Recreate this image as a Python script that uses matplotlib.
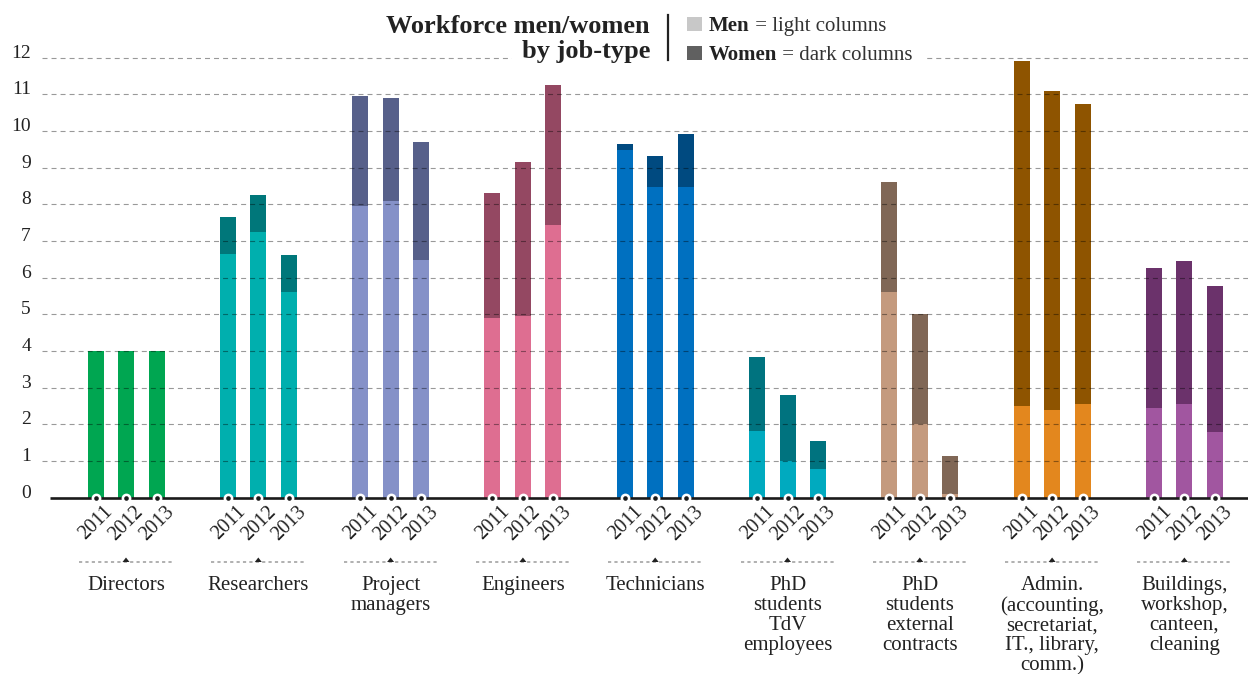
import matplotlib
matplotlib.use("Agg")
import matplotlib.pyplot as plt
from matplotlib.patches import Rectangle, Polygon
from matplotlib.transforms import ScaledTranslation, blended_transform_factory
import numpy as np

plt.rcParams['font.family'] = ['Liberation Serif', 'DejaVu Serif']
plt.rcParams['lines.scale_dashes'] = False

categories = ["Directors", "Researchers", "Project\nmanagers", "Engineers",
              "Technicians", "PhD\nstudents\nTdV\nemployees",
              "PhD\nstudents\nexternal\ncontracts",
              "Admin.\n(accounting,\nsecretariat,\nIT., library,\ncomm.)",
              "Buildings,\nworkshop,\ncanteen,\ncleaning"]
years = ["2011", "2012", "2013"]

men = [
    [4.00, 4.00, 4.00],
    [6.64, 7.24, 5.61],
    [7.95, 8.09, 6.48],
    [4.90, 4.95, 7.43],
    [9.48, 8.48, 8.48],
    [1.81, 1.00, 0.78],
    [5.61, 2.00, 0.10],
    [2.50, 2.39, 2.55],
    [2.44, 2.55, 1.79],
]
women = [
    [0.00, 0.00, 0.00],
    [1.01, 1.01, 1.00],
    [3.00, 2.81, 3.22],
    [3.41, 4.20, 3.82],
    [0.16, 0.84, 1.43],
    [2.02, 1.80, 0.77],
    [2.99, 3.00, 1.03],
    [9.40, 8.70, 8.18],
    [3.82, 3.90, 3.98],
]
light_colors = ["#00A651", "#00AFAE", "#8591C8", "#DE6E91", "#0070C0",
                "#00AABF", "#C49A7E", "#E3871E", "#A156A0"]
dark_colors = ["#00A651", "#00777A", "#57608A", "#944862", "#004A80",
               "#00737F", "#806756", "#8E5400", "#6B326B"]
y_ticks = list(range(0, 13))

W, H = 1248, 674
fig = plt.figure(figsize=(W / 100, H / 100), dpi=100)

def fx(px):
    return px / W

def fy(py):
    return 1 - py / H

# axes placement
y0_px = 497.6
unit_px = 36.67
ytop = 12.3
ax_bottom = fy(y0_px)
ax_top = fy(y0_px - ytop * unit_px)
ax = fig.add_axes([fx(42), ax_bottom, 1 - fx(42), ax_top - ax_bottom])

g0_px, gstep = 126, 132.3
ax.set_xlim((42 - g0_px) / gstep, (W - g0_px) / gstep)
ax.set_ylim(0, ytop)
for s in ax.spines.values():
    s.set_visible(False)
ax.set_xticks([])

offset = 30.5 / gstep
bw = 16 / gstep

text_color = "#222222"
xs_all = []
for gi, cat in enumerate(categories):
    xs = gi + offset * np.array([-1, 0, 1])
    xs_all.extend(xs)
    ax.bar(xs, men[gi], width=bw, color=light_colors[gi], zorder=2, linewidth=0)
    ax.bar(xs, women[gi], width=bw, bottom=men[gi], color=dark_colors[gi],
           zorder=2, linewidth=0)
    for xi, yr in zip(xs, years):
        tr = ax.transData + ScaledTranslation(5.8 / 72, -3.4 / 72, fig.dpi_scale_trans)
        ax.text(xi, 0, yr, rotation=45, rotation_mode='anchor', ha='right',
                va='top', fontsize=14.5, color=text_color, transform=tr)
    # bracket
    ax.plot([gi - 47 / gstep, gi + 47 / gstep], [0, 0], color="#aaaaaa",
            lw=1.3, dashes=(2.3, 2.3), clip_on=False,
            transform=ax.transData + ScaledTranslation(0, -(562 - y0_px) / 100, fig.dpi_scale_trans))
    ax.text(gi, 0, cat, ha='center', va='top', fontsize=15, color=text_color,
            linespacing=1.06, multialignment='center',
            transform=ax.transData + ScaledTranslation(0, -(576 - y0_px) / 100, fig.dpi_scale_trans))

# small triangles at bracket centers
for gi in range(len(categories)):
    cx = ax.transData.transform((gi, 0))[0] / W
    tri = Polygon([[cx - 3.5 / W, fy(562)], [cx + 3.5 / W, fy(562)], [cx, fy(557.5)]],
                  closed=True, transform=fig.transFigure, facecolor="#222222",
                  edgecolor='none', zorder=5)
    fig.patches.append(tri)

# gridlines on top of bars
for yv in y_ticks[1:]:
    ax.axhline(yv, color="black", alpha=0.4, lw=0.8, dashes=(3.6, 2.9), zorder=3)

# baseline
ax.plot([(50 - 42) / (W - 42), 1], [0, 0], color="#1a1a1a", lw=1.9,
        transform=blended_transform_factory(ax.transAxes, ax.transData),
        zorder=4, clip_on=False, solid_capstyle='butt')

# markers at baseline
ax.scatter(xs_all, np.zeros(len(xs_all)), s=50, c='white', zorder=6,
           clip_on=False, linewidths=0)
ax.scatter(xs_all, np.zeros(len(xs_all)), s=11, c='#1a1a1a', zorder=7,
           clip_on=False, linewidths=0)

# y ticks
ax.set_yticks(y_ticks)
ax.set_yticklabels([str(v) for v in y_ticks])
ax.tick_params(axis='y', length=0, pad=8, labelsize=14, labelcolor=text_color)
for lab in ax.get_yticklabels():
    lab.set_va('baseline')

# white patch interrupting top gridline around title/legend
fig.patches.append(Rectangle((fx(512), fy(66)), fx(927 - 512), fy(44) - fy(66),
                             transform=fig.transFigure, facecolor='white',
                             edgecolor='none', zorder=5))

# title
fig.text(fx(650), fy(33), "Workforce men/women", ha='right', va='baseline',
         fontsize=19, fontweight='bold', color=text_color, zorder=6)
fig.text(fx(650), fy(58), "by job-type", ha='right', va='baseline',
         fontsize=19, fontweight='bold', color=text_color, zorder=6)
fig.add_artist(plt.Line2D([fx(668), fx(668)], [fy(15), fy(60)], color="#222222",
                          lw=1.6, transform=fig.transFigure, zorder=6))

# legend
fig.patches.append(Rectangle((fx(687), fy(31)), fx(15), fy(17) - fy(31),
                             transform=fig.transFigure, facecolor='#c8c8c8',
                             edgecolor='none', zorder=6))
fig.patches.append(Rectangle((fx(687), fy(60)), fx(15), fy(46) - fy(60),
                             transform=fig.transFigure, facecolor='#606060',
                             edgecolor='none', zorder=6))
leg_fs = 15
t1 = fig.text(fx(709), fy(31), "Men", ha='left', va='baseline', fontsize=leg_fs,
              fontweight='bold', color=text_color, zorder=7)
t2 = fig.text(fx(709), fy(60), "Women", ha='left', va='baseline', fontsize=leg_fs,
              fontweight='bold', color=text_color, zorder=7)

renderer = fig.canvas.get_renderer()
w1 = t1.get_window_extent(renderer).width
w2 = t2.get_window_extent(renderer).width
fig.text(fx(709 + w1), fy(31), " = light columns", ha='left', va='baseline',
         fontsize=leg_fs, color="#333333", zorder=7)
fig.text(fx(709 + w2), fy(60), " = dark columns", ha='left', va='baseline',
         fontsize=leg_fs, color="#333333", zorder=7)

fig.savefig("out.png", dpi=100, facecolor='white')
